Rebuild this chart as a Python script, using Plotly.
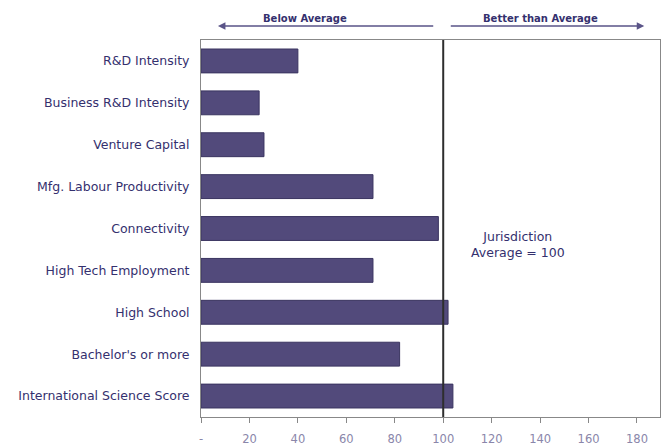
import plotly.graph_objects as go

categories = ["R&D Intensity", "Business R&D Intensity", "Venture Capital",
              "Mfg. Labour Productivity", "Connectivity", "High Tech Employment",
              "High School", "Bachelor's or more", "International Science Score"]
values = [40, 24, 26, 71, 98, 71, 102, 82, 104]
tick_vals = [0, 20, 40, 60, 80, 100, 120, 140, 160, 180]
tick_text = ["-", "20", "40", "60", "80", "100", "120", "140", "160", "180"]
average = 100

FONT = "DejaVu Sans"
TXT = "#34306e"

fig = go.Figure()
fig.add_trace(go.Bar(
    y=categories, x=values, orientation="h",
    marker=dict(color="#524a7b", line=dict(color="#3a3460", width=1)),
    width=0.57, hoverinfo="x+y",
))

fig.add_shape(type="line", x0=average, x1=average, xref="x", y0=0, y1=1, yref="paper",
              line=dict(color="#2e2e2e", width=2))

arrow_col = "#5a5488"
fig.add_annotation(x=7, y=1.037, xref="x", yref="paper", ax=96.5, axref="x", ay=0,
                   showarrow=True, arrowhead=2, arrowsize=1, arrowwidth=1.5,
                   arrowcolor=arrow_col, text="")
fig.add_annotation(x=183, y=1.037, xref="x", yref="paper", ax=102.5, axref="x", ay=0,
                   showarrow=True, arrowhead=2, arrowsize=1, arrowwidth=1.5,
                   arrowcolor=arrow_col, text="")
fig.add_annotation(x=43, y=1.058, xref="x", yref="paper", yanchor="middle",
                   text="<b>Below Average</b>",
                   showarrow=False, font=dict(size=10, color=TXT, family=FONT))
fig.add_annotation(x=140, y=1.058, xref="x", yref="paper", yanchor="middle",
                   text="<b>Better than Average</b>",
                   showarrow=False, font=dict(size=10, color=TXT, family=FONT))
fig.add_annotation(x=131, y=0.458, xref="x", yref="paper",
                   text="Jurisdiction<br>Average = 100", showarrow=False,
                   font=dict(size=12.5, color=TXT, family=FONT))

fig.update_layout(
    width=662, height=447,
    margin=dict(l=201, r=2, t=40, b=30),
    paper_bgcolor="white", plot_bgcolor="white",
    showlegend=False,
    font=dict(family=FONT, size=12.5, color=TXT),
    xaxis=dict(range=[0, 189.5], tickvals=tick_vals, ticktext=tick_text,
               showgrid=False, zeroline=False, showline=True, linecolor="#888888",
               linewidth=1, mirror=True, ticks="outside", ticklen=5, tickcolor="#888888",
               ticklabelstandoff=6,
               tickfont=dict(size=11.5, color="#8a86aa", family=FONT)),
    yaxis=dict(autorange="reversed", showgrid=False, zeroline=False, showline=True,
               linecolor="#888888", linewidth=1, mirror=True, ticks="",
               ticklabelstandoff=8,
               tickfont=dict(size=12.5, color=TXT, family=FONT)),
    bargap=0.43,
)

fig.write_html("out.html", config={"displayModeBar": False},
               post_script="document.body.style.margin='0';document.body.style.overflow='hidden';")
